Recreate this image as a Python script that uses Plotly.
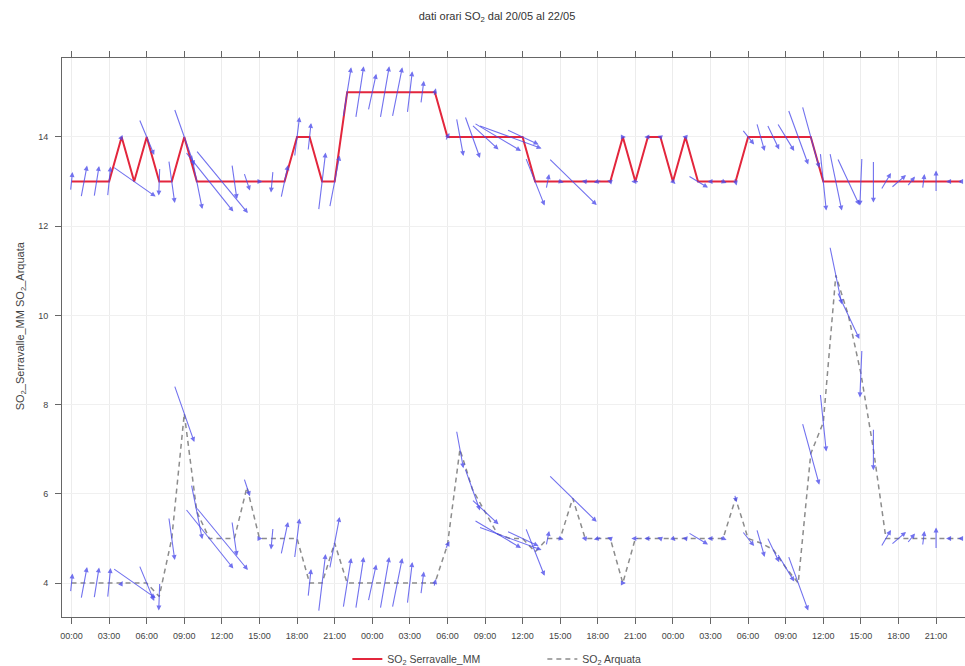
import plotly.graph_objects as go

# Hourly SO2 concentrations, 20/05 00:00 -> 22/05 23:00
hours = list(range(72))

so2_serravalle = [
    13, 13, 13, 13, 14, 13, 14, 13, 13, 14,
    13, 13, 13, 13, 13, 13, 13, 13, 14, 14,
    13, 13, 15, 15, 15, 15, 15, 15, 15, 15,
    14, 14, 14, 14, 14, 14, 14, 13, 13, 13,
    13, 13, 13, 13, 14, 13, 14, 14, 13, 14,
    13, 13, 13, 13, 14, 14, 14, 14, 14, 14,
    13, 13, 13, 13, 13, 13, 13, 13, 13, 13,
    13, 13,
]

so2_arquata = [
    4.0, 4.0, 4.0, 4.0, 4.0, 4.0, 4.0, 3.7, 5.0, 7.8,
    5.6, 5.0, 5.0, 5.0, 6.15, 5.0, 5.0, 5.0, 5.0, 4.0,
    4.0, 4.9, 4.0, 4.0, 4.0, 4.0, 4.0, 4.0, 4.0, 4.0,
    4.85, 7.0, 6.1, 5.6, 5.1, 5.0, 5.0, 4.7, 5.0, 5.0,
    5.9, 5.0, 5.0, 5.0, 4.0, 5.0, 5.0, 5.0, 5.0, 5.0,
    5.0, 5.0, 5.0, 5.9, 5.0, 4.9, 4.75, 4.35, 4.0, 6.9,
    7.6, 10.9, 10.0, 8.7, 7.0, 5.0, 5.0, 5.0, 5.0, 5.0,
    5.0, 5.0,
]

# Hourly wind vector components (m/s): u = eastward, v = northward
wind_u = [
    0.2, 0.6, 0.5, 0.3, 0.2, 4.3, 1.5, -0.1, 0.6, 2.0,
    1.1, 4.8, 5.2, 0.5, 0.6, 0.6, -0.2, 0.7, 0.5, 0.3,
    0.7, 1.0, 0.8, 0.8, 0.8, 0.9, 1.0, 0.5, 0.3, 0.2,
    0.4, 0.7, 1.5, 2.7, 4.7, 6.3, 3.2, 1.9, 0.3, 0.7,
    4.8, -0.7, -0.8, -0.6, 0.6, -0.8, -0.7, -0.6, 0.5, -0.6,
    2.0, -0.6, 0.7, 0.2, 1.2, 0.8, 1.2, 1.7, 2.0, 1.7,
    0.6, 1.2, 2.2, -0.2, 0.0, 1.0, 1.5, 0.8, 0.2, 0.0,
    -0.5, -0.6,
]
wind_v = [
    1.9, 3.2, 3.1, 3.0, 0.4, -3.0, -3.6, -2.8, -4.3, -5.7,
    -5.5, -6.0, -6.3, -3.5, -1.8, 0.0, -2.2, 3.3, 4.0, 2.8,
    5.8, 5.2, 5.0, 5.2, 3.7, 5.2, 5.0, 4.2, 2.3, 0.8,
    0.8, -3.8, -4.2, -2.5, -2.8, -2.3, -1.5, -4.8, 1.5, -0.2,
    -4.7, 0.1, -0.2, 0.2, 0.0, 0.0, 0.0, 0.2, -0.5, 0.1,
    -1.2, 0.0, -0.3, -0.8, -1.5, -2.8, -2.5, -2.8, -5.5, -6.2,
    -5.8, -5.8, -4.7, -4.8, -4.2, 1.7, 1.3, 1.0, 1.5, 2.2,
    0.0, 0.0,
]

tick_hours = [0, 3, 6, 9, 12, 15, 18, 21, 24, 27, 30, 33,
              36, 39, 42, 45, 48, 51, 54, 57, 60, 63, 66, 69]
tick_labels = ["00:00", "03:00", "06:00", "09:00", "12:00", "15:00", "18:00", "21:00"] * 3

y_ticks = [4, 6, 8, 10, 12, 14]

# Figure geometry
W, H = 965, 666
M_L, M_R, M_T, M_B = 62, 0, 58, 49
X_RANGE = [-0.76, 71.31]
Y_RANGE = [3.24, 15.77]
ARROW_PX_PER_MS = 10.0

px_per_hour = (W - M_L - M_R) / (X_RANGE[1] - X_RANGE[0])
px_per_val = (H - M_T - M_B) / (Y_RANGE[1] - Y_RANGE[0])

FONT = "Liberation Sans, Arial, sans-serif"
ARROW_COLOR = "rgba(75,75,235,0.78)"

fig = go.Figure()
fig.add_trace(go.Scatter(
    x=hours, y=so2_serravalle, mode="lines",
    name="SO<sub>2</sub> Serravalle_MM",
    line=dict(color="#e3263c", width=2),
))
fig.add_trace(go.Scatter(
    x=hours, y=so2_arquata, mode="lines",
    name="SO<sub>2</sub> Arquata",
    line=dict(color="#8c8c8c", width=1.5, dash="5px,4px"),
))

# Wind arrows centred on each hourly value of both series
annotations = []
for series in (so2_serravalle, so2_arquata):
    for h, val, u, v in zip(hours, series, wind_u, wind_v):
        hx = u * ARROW_PX_PER_MS / 2 / px_per_hour
        hy = v * ARROW_PX_PER_MS / 2 / px_per_val
        annotations.append(dict(
            x=h + hx, y=val + hy, ax=h - hx, ay=val - hy,
            xref="x", yref="y", axref="x", ayref="y",
            text="", showarrow=True, arrowhead=2, arrowsize=0.9,
            arrowwidth=1.1, arrowcolor=ARROW_COLOR, standoff=0,
        ))

annotations.append(dict(
    text="SO<sub>2</sub>_Serravalle_MM SO<sub>2</sub>_Arquata",
    xref="paper", yref="paper", x=(21 - M_L) / (W - M_L - M_R), y=0.52,
    xanchor="center", yanchor="middle", textangle=-90, showarrow=False,
    font=dict(family=FONT, size=11, color="#444"),
))

fig.update_layout(
    width=W, height=H,
    margin=dict(l=M_L, r=M_R, t=M_T, b=M_B, autoexpand=False),
    paper_bgcolor="white", plot_bgcolor="white",
    title=dict(
        text="dati orari SO<sub>2</sub> dal 20/05 al 22/05",
        x=(497 - M_L) / (W - M_L - M_R), xref="paper", xanchor="center",
        y=1 - 16 / H, yanchor="middle",
        font=dict(family=FONT, size=11, color="#333"),
    ),
    showlegend=True,
    legend=dict(
        orientation="h", x=0.316, xanchor="left",
        yref="container", y=1 - 659 / H, yanchor="middle",
        entrywidth=150, entrywidthmode="pixels",
        font=dict(family=FONT, size=10.5, color="#444"),
        bgcolor="rgba(0,0,0,0)",
    ),
    annotations=annotations,
)

fig.update_xaxes(
    range=X_RANGE, tickvals=tick_hours, ticktext=tick_labels, automargin=False,
    showline=True, linecolor="#666", linewidth=1, mirror="ticks",
    ticks="outside", ticklen=6, tickcolor="#666", ticklabelstandoff=4,
    showgrid=True, gridcolor="#ececec", gridwidth=1, zeroline=False,
    tickfont=dict(family=FONT, size=9, color="#444"),
)
fig.update_yaxes(
    range=Y_RANGE, tickvals=y_ticks, automargin=False,
    showline=True, linecolor="#666", linewidth=1, mirror=False,
    ticks="outside", ticklen=6, tickcolor="#666", ticklabelstandoff=5,
    showgrid=True, gridcolor="#f0f0f0", gridwidth=1, zeroline=False,
    tickfont=dict(family=FONT, size=9, color="#444"),
)

fig.write_html("out.html")
